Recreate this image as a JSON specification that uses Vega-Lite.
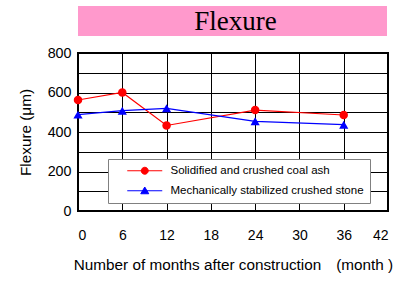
{
  "$schema": "https://vega.github.io/schema/vega-lite/v6.json",
  "padding": {"left": 17, "top": 6, "right": 5, "bottom": 5},
  "background": "white",
  "spacing": 17,
  "bounds": "flush",
  "config": {
    "font": "Liberation Sans",
    "view": {"stroke": "black", "strokeWidth": 2}
  },
  "vconcat": [
    {
      "width": 309,
      "height": 30,
      "view": {"fill": "#ff99cc", "stroke": null},
      "data": {"values": [{"t": "Flexure"}]},
      "mark": {"type": "text", "font": "Liberation Serif", "fontSize": 27, "color": "black", "baseline": "middle", "dy": 1, "dx": 3},
      "encoding": {"text": {"field": "t"}}
    },
    {
      "width": 310,
      "height": 158,
      "data": {"values": [
        {"series": "Solidified and crushed coal ash", "month": 0, "value": 562},
        {"series": "Solidified and crushed coal ash", "month": 6, "value": 600},
        {"series": "Solidified and crushed coal ash", "month": 12, "value": 433},
        {"series": "Solidified and crushed coal ash", "month": 24, "value": 511},
        {"series": "Solidified and crushed coal ash", "month": 36, "value": 486},
        {"series": "Mechanically stabilized crushed stone", "month": 0, "value": 488},
        {"series": "Mechanically stabilized crushed stone", "month": 6, "value": 508},
        {"series": "Mechanically stabilized crushed stone", "month": 12, "value": 520},
        {"series": "Mechanically stabilized crushed stone", "month": 24, "value": 454},
        {"series": "Mechanically stabilized crushed stone", "month": 36, "value": 437}
      ]},
      "encoding": {
        "x": {
          "field": "month", "type": "quantitative",
          "scale": {"domain": [0, 42], "nice": false},
          "axis": {
            "values": [0, 6, 12, 18, 24, 30, 36, 42],
            "title": "Number of months after construction　(month )",
            "grid": true, "gridColor": "black", "gridOpacity": 1, "gridWidth": 1,
            "domain": false, "ticks": false,
            "labelFontSize": 14, "labelPadding": 17, "labelColor": "black",
            "titleFontSize": 15.3, "titleFontWeight": "normal", "titlePadding": 15, "titleColor": "black"
          }
        },
        "y": {
          "field": "value", "type": "quantitative",
          "scale": {"domain": [0, 800], "nice": false},
          "axis": {
            "values": [0, 100, 200, 300, 400, 500, 600, 700, 800],
            "labelExpr": "datum.value % 200 === 0 ? datum.label : ''",
            "title": "Flexure (μm)",
            "grid": true, "gridColor": "black", "gridOpacity": 1, "gridWidth": 1,
            "domain": false, "ticks": false,
            "labelFontSize": 14.3, "labelPadding": 7, "labelColor": "black",
            "titleFontSize": 15.3, "titleFontWeight": "normal", "titlePadding": 14, "titleColor": "black"
          }
        },
        "color": {
          "field": "series", "type": "nominal",
          "scale": {
            "domain": ["Solidified and crushed coal ash", "Mechanically stabilized crushed stone"],
            "range": ["#ff0000", "#0000ff"]
          },
          "legend": {
            "orient": "none", "legendX": 30, "legendY": 153,
            "title": null, "direction": "vertical",
            "strokeColor": "#808080", "fillColor": "white", "padding": 6,
            "labelFontSize": 11.5, "labelColor": "black", "labelOffset": 20, "labelLimit": 300,
            "labelExpr": "datum.label + '\u00a0\u00a0\u00a0'",
            "symbolSize": 100, "symbolOffset": 25, "rowPadding": 7,
            "symbolStrokeWidth": 1,
            "encode": {
              "symbols": {"update": {
                "shape": {"signal": "datum.value === 'Solidified and crushed coal ash' ? 'M-3.5,0H3.5M0.7,0A0.7,0.7,0,1,1,-0.7,0A0.7,0.7,0,1,1,0.7,0Z' : 'M-3.5,0H3.5M0,-0.75L0.8,0.6L-0.8,0.6Z'"},
                "fill": {"signal": "datum.value === 'Solidified and crushed coal ash' ? '#ff0000' : '#0000ff'"},
                "stroke": {"signal": "datum.value === 'Solidified and crushed coal ash' ? '#ff4040' : '#4040ff'"},
                "fillOpacity": {"value": 1},
                "opacity": {"value": 1}
              }}
            }
          }
        }
      },
      "layer": [
        {
          "mark": {"type": "line", "strokeWidth": 1.2}
        },
        {
          "transform": [{"filter": "datum.series === 'Solidified and crushed coal ash'"}],
          "mark": {"type": "point", "filled": true, "opacity": 1, "shape": "circle", "size": 72}
        },
        {
          "transform": [{"filter": "datum.series === 'Mechanically stabilized crushed stone'"}],
          "mark": {"type": "point", "filled": true, "opacity": 1, "shape": "triangle-up", "size": 85}
        }
      ]
    }
  ]
}
